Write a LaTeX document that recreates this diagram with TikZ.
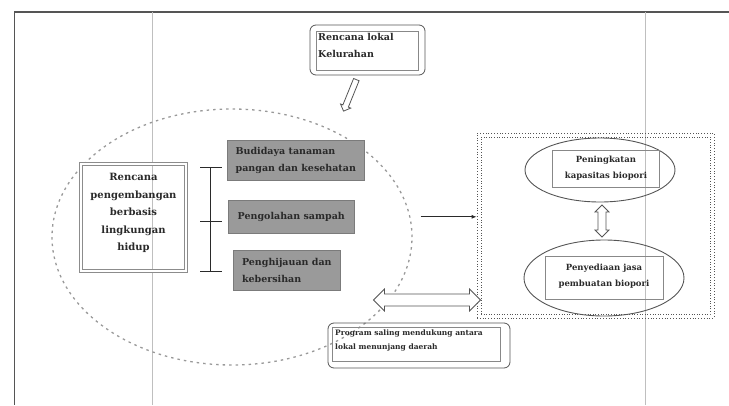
\documentclass[tikz,border=0pt]{standalone}
\usepackage{fontspec}
\setmainfont{DejaVu Serif}
\usetikzlibrary{arrows.meta,shapes.geometric,shapes.arrows,calc}
\definecolor{ink}{HTML}{2A2A2A}
\definecolor{greybox}{HTML}{9A9A9A}
\definecolor{frame}{HTML}{555555}
\tikzset{
  txt/.style={font=\bfseries\fontsize{9.5}{17}\selectfont, text=ink, align=center, inner sep=0pt},
  greyb/.style={draw=greybox!80!black, fill=greybox, line width=0.6pt, font=\bfseries\fontsize{9.5}{17}\selectfont, text=ink, align=left, inner sep=3pt, anchor=north west},
  labbox/.style={draw=frame, rounded corners=6pt, line width=0.8pt},
  innerb/.style={draw=frame!70, line width=0.5pt},
  hollow/.style={draw=frame, fill=white, line width=0.8pt, inner sep=0pt},
  ell/.style={ellipse, draw=frame, line width=0.9pt},
}
\begin{document}
\begin{tikzpicture}[x=1pt,y=-1pt]
\useasboundingbox (0,0) rectangle (729,405);
% page frame
\draw[line width=2pt, frame] (14,12) -- (729,12);
\draw[line width=0.8pt, frame] (14,12) -- (14,405);
\draw[line width=0.4pt, gray!50] (152,12) -- (152,405);
\draw[line width=0.4pt, gray!50] (645,12) -- (645,405);
% big dashed circle
\node[ellipse, draw=gray!80, line width=1.3pt, dash pattern=on 2.5pt off 4pt, minimum width=360pt, minimum height=256pt] (circ) at (232,237) {};
% top box
\node[labbox, minimum width=115pt, minimum height=50pt] (topb) at (367.5,50) {};
\node[innerb, minimum width=102pt, minimum height=39pt] (topi) at (367,50.5) {};
\node[font=\bfseries\fontsize{9.5}{17}\selectfont, text=ink, align=left, anchor=north west, inner sep=0pt] (toptext) at (318,33) {Rencana lokal\\Kelurahan};
% top hollow arrow
\coordinate (ta1) at (357,78);
\coordinate (ta2) at (344,110);
\node[single arrow, hollow, minimum height=34pt, minimum width=11pt, single arrow head extend=2.5pt, rotate=247.9] (tarr) at ($(ta1)!0.5!(ta2)$) {\rule{0pt}{5pt}};
% left box
\node[draw=gray!90, double=white, double distance=2pt, line width=0.7pt, minimum width=105pt, minimum height=107pt] (lbox) at (133.5,217.5) {};
\node[txt, font=\bfseries\fontsize{10}{17.5}\selectfont] (ltext) at (133.5,213) {Rencana\\pengembangan\\berbasis\\lingkungan\\hidup};
% bracket
\coordinate (bt) at (210,167);
\coordinate (bm) at (210,221);
\coordinate (bb) at (210,271);
\draw[ink, line width=0.8pt] (bt) -- (bb);
\foreach \c in {bt,bm,bb} \draw[ink, line width=0.8pt] ([xshift=-10pt]\c) -- ([xshift=12pt]\c);
% grey boxes
\node[greyb, minimum width=137pt, minimum height=40pt] (g1) at (227,140) {Budidaya tanaman\\pangan dan kesehatan};
\node[greyb, minimum width=126pt, minimum height=33pt, inner sep=6pt] (g2) at (228,200) {Pengolahan sampah};
\node[greyb, minimum width=107pt, minimum height=40pt] (g3) at (233,250) {Penghijauan dan\\kebersihan};
% right dotted box
\node[draw=frame, dotted, line width=0.8pt, minimum width=237pt, minimum height=185pt] (rbox) at (595.5,225.5) {};
\node[draw=frame, dotted, line width=0.6pt, minimum width=229pt, minimum height=177pt] (rboxi) at (595.5,225.5) {};
% arrow to right box
\draw[-{Latex[length=5pt,width=4pt]}, ink, line width=0.8pt] ([xshift=8pt]circ.east |- g2.east) -- (rbox.west |- g2.east);
% ellipses
\node[ell, minimum width=150pt, minimum height=64pt] (e1) at (600,170) {};
\node[innerb, minimum width=107pt, minimum height=37pt] (e1i) at (606,169) {};
\node[txt, font=\bfseries\fontsize{8.5}{16}\selectfont] (e1t) at (606,168) {Peningkatan\\kapasitas biopori};
\node[ell, minimum width=160pt, minimum height=76pt] (e2) at (604,278) {};
\node[innerb, minimum width=118pt, minimum height=43pt] (e2i) at (604,278) {};
\node[txt, font=\bfseries\fontsize{8.5}{16}\selectfont] (e2t) at (604,276) {Penyediaan jasa\\pembuatan biopori};
% vertical hollow double arrow
\node[double arrow, hollow, minimum height=32pt, minimum width=14pt, double arrow head extend=3pt, rotate=90] (varr) at ($(e1.south)!0.5!(e2.north)$) {\rule{0pt}{7pt}};
% horizontal hollow double arrow
\node[double arrow, hollow, minimum height=107pt, minimum width=22pt, double arrow head extend=5pt] (harr) at (427,300) {\rule{0pt}{11pt}};
% bottom box
\node[labbox, minimum width=182pt, minimum height=45pt] (botb) at (419,345.5) {};
\node[innerb, minimum width=168pt, minimum height=34pt] (boti) at (416,344) {};
\node[font=\bfseries\fontsize{7.5}{14}\selectfont, text=ink, align=left, anchor=north west, inner sep=0pt] (bottext) at (335,330) {Program saling mendukung antara\\lokal menunjang daerah};
\end{tikzpicture}
\end{document}
